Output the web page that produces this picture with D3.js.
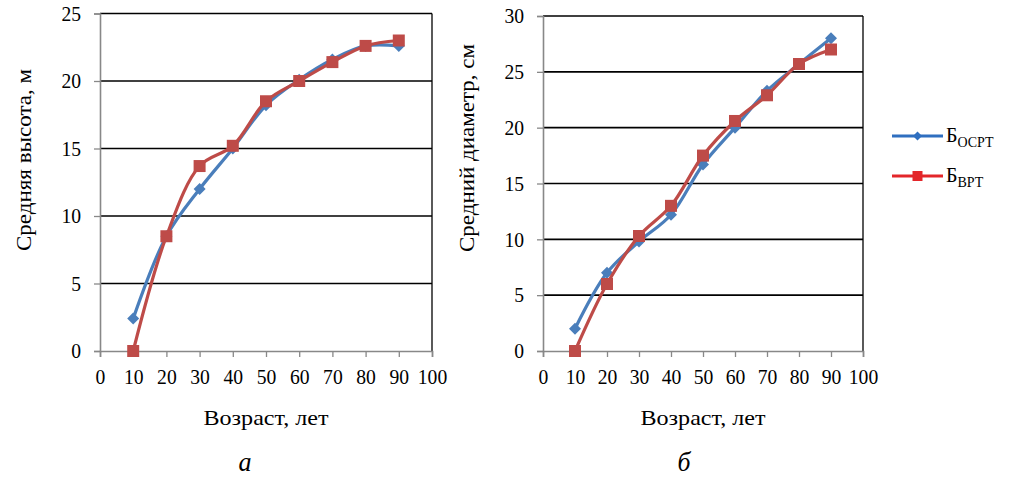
<!DOCTYPE html>
<html>
<head>
<meta charset="utf-8">
<script src="https://cdn.jsdelivr.net/npm/d3@7"></script>
</head>
<body style="margin:0">
<svg id="chart" width="1014" height="479"></svg>
<script>
// Age classes, years
const ages = [10, 20, 30, 40, 50, 60, 70, 80, 90];

// Mean height, m
const heightOsrt = [2.4, 8.5, 12.0, 15.0, 18.2, 20.1, 21.6, 22.6, 22.6];
const heightVrt  = [0.0, 8.5, 13.7, 15.2, 18.5, 20.0, 21.4, 22.6, 23.0];

// Mean diameter, cm
const diamOsrt = [2.0, 7.0, 9.8, 12.2, 16.7, 20.0, 23.3, 25.7, 28.0];
const diamVrt  = [0.0, 6.0, 10.3, 13.0, 17.5, 20.6, 22.9, 25.7, 27.0];

const xTicks = [0, 10, 20, 30, 40, 50, 60, 70, 80, 90, 100];
const heightTicks = [0, 5, 10, 15, 20, 25];
const diamTicks = [0, 5, 10, 15, 20, 25, 30];

const SERIF = "Times New Roman";
const DIGIT_W = 9.8;    // width of one tick-label digit
const svg = d3.select("#chart");
const BLUE = "#4a7ebb", RED = "#be4b48";

function serif(sel) {
  sel.attr("font-family", SERIF).style("font-family", "'Times New Roman', 'Liberation Serif', serif");
}

// fit a text to a given length
function fit(sel, len) {
  sel.attr("textLength", typeof len === "function" ? function (d) { return len(d, this); } : len)
     .attr("lengthAdjust", "spacingAndGlyphs");
}

function panel(opts) {
  const { left, right, top, bottom, yMax, yTicks, yTitle, titleX, titleY, titleLen, label, labelX, series } = opts;
  const x = d3.scaleLinear().domain([0, 100]).range([left, right]);
  const y = d3.scaleLinear().domain([0, yMax]).range([bottom, top]);
  const g = svg.append("g");

  // horizontal gridlines
  g.append("g").selectAll("line").data(yTicks.filter(t => t > 0)).join("line")
    .attr("x1", left).attr("x2", right)
    .attr("y1", d => y(d)).attr("y2", d => y(d))
    .attr("stroke", "#000").attr("stroke-width", 1.6);

  // right border
  g.append("line").attr("x1", right).attr("x2", right).attr("y1", top).attr("y2", bottom)
    .attr("stroke", "#000").attr("stroke-width", 1.3);

  const tickLen = d => String(d).length * DIGIT_W;

  // y axis
  const yAxis = g.append("g").attr("transform", `translate(${left},0)`)
    .call(d3.axisLeft(y).tickValues(yTicks).tickSize(6).tickPadding(13).tickFormat(d3.format("d")));
  yAxis.call(serif);
  yAxis.select(".domain").attr("stroke", "#888").attr("stroke-width", 1.6);
  yAxis.selectAll(".tick line").attr("stroke", "#888").attr("stroke-width", 1.3);
  yAxis.selectAll("text").call(serif).attr("font-size", 21).attr("fill", "#000").call(fit, tickLen);

  // x axis
  const xAxis = g.append("g").attr("transform", `translate(0,${bottom})`)
    .call(d3.axisBottom(x).tickValues(xTicks).tickSize(6).tickPadding(12).tickFormat(d3.format("d")));
  xAxis.call(serif);
  xAxis.select(".domain").attr("stroke", "#888").attr("stroke-width", 1.6);
  xAxis.selectAll(".tick line").attr("stroke", "#888").attr("stroke-width", 1.3);
  xAxis.selectAll("text").call(serif).attr("font-size", 21).attr("fill", "#000").call(fit, tickLen);

  // axis titles
  g.append("text").call(serif).attr("x", (left + right) / 2).attr("y", 425)
    .attr("text-anchor", "middle").attr("font-size", 21)
    .text("Возраст, лет").call(fit, 125);
  g.append("text").call(serif)
    .attr("transform", `translate(${titleX},${titleY}) rotate(-90)`)
    .attr("text-anchor", "middle").attr("dominant-baseline", "central")
    .attr("font-size", 21).text(yTitle).call(fit, titleLen);

  // panel letter
  g.append("text").call(serif).attr("x", labelX).attr("y", 471)
    .attr("text-anchor", "middle").attr("font-size", 27)
    .attr("font-style", "italic").text(label).call(fit, 13);

  // series
  const line = d3.line().x((d, i) => x(ages[i])).y(d => y(d)).curve(d3.curveCatmullRom.alpha(0.5));
  series.forEach(s => {
    g.append("path").datum(s.values).attr("d", line)
      .attr("fill", "none").attr("stroke", s.color).attr("stroke-width", 3.2)
      .attr("stroke-linejoin", "round");
    const m = g.append("g").selectAll("path").data(s.values).join("path")
      .attr("transform", (d, i) => `translate(${x(ages[i])},${y(d)})`)
      .attr("fill", s.color);
    if (s.marker === "diamond") m.attr("d", "M0,-6L6,0L0,6L-6,0Z");
    else m.attr("d", "M-6,-6H6V6H-6Z");
  });
}

panel({
  left: 100, right: 432, top: 13.5, bottom: 351, yMax: 25, yTicks: heightTicks,
  yTitle: "Средняя высота, м", titleX: 24, titleY: 160, titleLen: 182, label: "а", labelX: 245,
  series: [
    { values: heightOsrt, color: BLUE, marker: "diamond" },
    { values: heightVrt, color: RED, marker: "square" }
  ]
});

panel({
  left: 543, right: 863, top: 16, bottom: 351, yMax: 30, yTicks: diamTicks,
  yTitle: "Средний диаметр, см", titleX: 467, titleY: 148, titleLen: 208, label: "б", labelX: 684,
  series: [
    { values: diamOsrt, color: BLUE, marker: "diamond" },
    { values: diamVrt, color: RED, marker: "square" }
  ]
});

// legend
const legendItems = [
  { name: "Б", sub: "ОСРТ", color: "#2f6fc0", marker: "diamond" },
  { name: "Б", sub: "ВРТ", color: "#e3262a", marker: "square" }
];
const lg = svg.append("g");
legendItems.forEach((it, i) => {
  const cy = 136 + i * 40;
  lg.append("line").attr("x1", 892).attr("x2", 943).attr("y1", cy).attr("y2", cy)
    .attr("stroke", it.color).attr("stroke-width", 3);
  lg.append("path").attr("transform", `translate(917.5,${cy})`)
    .attr("d", it.marker === "diamond" ? "M0,-4.5L4.5,0L0,4.5L-4.5,0Z" : "M-5,-5H5V5H-5Z")
    .attr("fill", it.color);
  const t = lg.append("text").call(serif).attr("x", 946).attr("y", cy + 6).attr("font-size", 20);
  t.append("tspan").text(it.name);
  t.append("tspan").attr("dy", 5).attr("font-size", 14).text(it.sub);
});
</script>
</body>
</html>
